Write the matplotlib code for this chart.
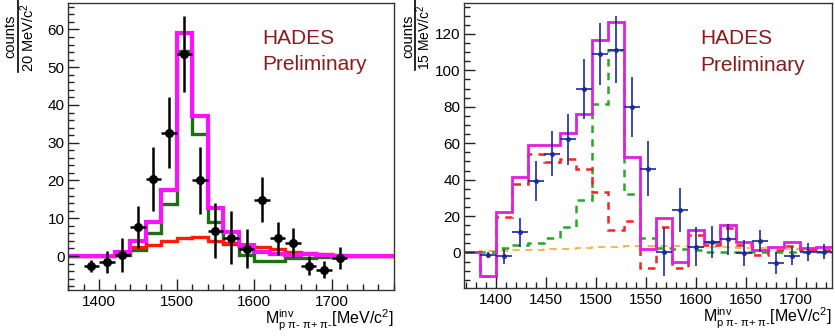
import numpy as np
import matplotlib
matplotlib.use("Agg")
import matplotlib.pyplot as plt
from matplotlib.ticker import MultipleLocator
from matplotlib.lines import Line2D

plt.rcParams['font.family'] = ['Liberation Sans', 'DejaVu Sans']
plt.rcParams['mathtext.fontset'] = 'custom'
plt.rcParams['mathtext.rm'] = 'Liberation Sans'
plt.rcParams['mathtext.it'] = 'Liberation Sans'
plt.rcParams['mathtext.bf'] = 'Liberation Sans:bold'

# ---------------- left panel data (20 MeV bins) ----------------
left_edges = list(range(1360, 1781, 20))
left_total = [0, 0, 0, 1.0, 3.9, 9.0, 17.6, 59.1, 37.2, 12.7, 6.3, 2.8, 1.0, 0.6, 0.4, 0.5, 0.2, 0.1, 0, 0, 0]
left_signal = [0, 0, 0, 0.3, 1.7, 6.2, 13.9, 54.3, 32.2, 9.0, 3.3, 0.2, -1.3, -1.3, -0.5, -0.5, -0.3, 0, 0, 0, 0]
left_bkg = [0, 0, 0, 1.0, 2.4, 2.8, 4.1, 4.8, 5.0, 4.1, 3.4, 2.6, 2.4, 1.9, 1.0, 0.9, 0.6, 0.3, 0, 0, 0]
left_x = [1390, 1410, 1430, 1450, 1470, 1490, 1510, 1530, 1550, 1570, 1590, 1610, 1630, 1650, 1670, 1690, 1710]
left_y = [-2.65, -1.6, 0.2, 7.7, 20.4, 32.7, 53.4, 20.0, 6.7, 4.9, 1.9, 14.9, 4.7, 3.5, -2.6, -3.6, -0.5]
left_err = [1.5, 3.0, 4.5, 5.5, 8.5, 9.5, 10.1, 9.0, 7.3, 7.0, 5.2, 6.0, 4.3, 3.8, 2.5, 2.2, 2.9]

# ---------------- right panel data (16 MeV bins) ----------------
right_edges = list(range(1368, 1737, 16))
right_total = [0, -12.8, 22.3, 41.5, 58.8, 58.8, 65.8, 76.2, 116.5, 126.4, 52.2, 1.8, 19.2, -5.3, 12.1, 5.7, 15.2, 6.0, 1.1, 2.9, 5.5, 2.4, 2.9]
right_red = [0, -12.8, 19.5, 37.4, 53.9, 49.9, 51.1, 45.8, 33.2, 12.4, 17.4, -8.6, 14.2, -8.6, 9.7, 4.2, 13.3, 4.2, -1.3, 1.5, 3.7, 1.5, 1.5]
right_green = [0.3, 0.4, 2.4, 4.2, 5.1, 8.2, 14.2, 28.9, 81.3, 111.4, 32.0, 8.0, 2.4, 1.8, 1.1, 0.5, 0.5, 0.4, 0.3, 0.3, 0.2, 0.2, 0.2]
right_orange = [0.3, 0.6, 0.9, 1.2, 1.5, 1.8, 2.1, 2.4, 2.8, 3.2, 3.6, 3.7, 3.6, 3.4, 3.2, 3.0, 2.8, 2.6, 2.4, 2.2, 2.0, 1.9, 1.8]
right_x = [1392, 1408, 1424, 1440, 1456, 1472, 1488, 1504, 1520, 1536, 1552, 1568, 1584, 1600, 1616, 1632, 1648, 1664, 1680, 1696, 1712, 1728]
right_y = [-1.5, -2.2, 11, 39.3, 54.2, 62.1, 89.7, 109, 111.4, 79.8, 46, 0.2, 23.2, 3.1, 5.7, 7.3, -0.4, 6.4, -5.7, -2, 0.4, 0.4]
right_err = [1.5, 4, 8, 11, 12.4, 14, 16.3, 17.2, 18.4, 16.6, 15, 13, 12, 10.7, 9, 8.6, 7, 6, 6.2, 4.8, 5, 4.2]

W, H = 835, 336
fig = plt.figure(figsize=(W / 100, H / 100), dpi=100)

def px_axes(l, t, r, b):
    return fig.add_axes([l / W, 1 - b / H, (r - l) / W, (b - t) / H])

axL = px_axes(68, 3, 394, 290)
axR = px_axes(464, 3, 832, 288)

hades_color = '#8b1a1a'
tick_fs = 11

def style(ax, xmaj, xmin, ymaj, ymin):
    ax.xaxis.set_major_locator(MultipleLocator(xmaj))
    ax.xaxis.set_minor_locator(MultipleLocator(xmin))
    ax.yaxis.set_major_locator(MultipleLocator(ymaj))
    ax.yaxis.set_minor_locator(MultipleLocator(ymin))
    ax.tick_params(which='both', direction='in', top=False, right=False, labelsize=tick_fs, width=1, color='#222222')
    ax.tick_params(which='major', length=8)
    ax.tick_params(which='minor', length=4)
    ax.tick_params(axis='y', pad=2.5)
    for s in ax.spines.values():
        s.set_linewidth(1.0)
        s.set_color('#333333')

# ---- left ----
axL.stairs(left_signal, left_edges, baseline=None, color='#1f6e12', lw=2.4)
axL.stairs(left_bkg, left_edges, baseline=None, color='#ff1a0a', lw=2.4)
axL.stairs(left_total, left_edges, baseline=None, color='#ff10ff', lw=3.0)
axL.errorbar(left_x, left_y, yerr=left_err, xerr=10, fmt='o', color='black', ms=5.5,
             elinewidth=1.8, capsize=0, zorder=5)
axL.set_xlim(1360, 1780)
axL.set_ylim(-9, 67)
style(axL, 100, 20, 10, 2)
axL.text(0.595, 0.875, 'HADES', transform=axL.transAxes, color=hades_color, fontsize=15, va='center', ha='left')
axL.text(0.595, 0.784, 'Preliminary', transform=axL.transAxes, color=hades_color, fontsize=15, va='center', ha='left')

# ---- right ----
axR.stairs(right_orange, right_edges, baseline=None, color='#ffb040', lw=1.3, ls=(0, (4, 3)))
axR.stairs(right_green, right_edges, baseline=None, color='#22aa22', lw=1.8, ls=(0, (3, 2.5)))
axR.stairs(right_red, right_edges, baseline=None, color='#ff2020', lw=1.8, ls=(0, (3, 2.5)))
axR.stairs(right_total, right_edges, baseline=None, color='#e020e0', lw=2.0)
axR.errorbar(right_x, right_y, yerr=right_err, xerr=8, fmt='o', color='#1a2a9a', ms=2.5,
             elinewidth=1.2, capsize=0, zorder=5)
axR.set_xlim(1368, 1736)
axR.set_ylim(-19.5, 137)
style(axR, 50, 10, 20, 5)
axR.text(0.641, 0.877, 'HADES', transform=axR.transAxes, color=hades_color, fontsize=15, va='center', ha='left')
axR.text(0.641, 0.782, 'Preliminary', transform=axR.transAxes, color=hades_color, fontsize=15, va='center', ha='left')

# x labels
xlab = r'$\mathrm{M}^{\mathrm{inv}}_{\mathrm{p}\ \pi\mathrm{\text{-}}\ \pi\mathrm{+}\ \pi\mathrm{\text{-}}}$[MeV/c$^{2}$]'
fig.text(394 / W, 1 - 320 / H, xlab, ha='right', va='center', fontsize=11.5)
fig.text(832 / W, 1 - 318 / H, xlab, ha='right', va='center', fontsize=11.5)

# y labels (fraction style)
def ylab(xnum, xbar, xden, den, ytop, ybot, fs):
    fig.text(xnum / W, 1 - 36 / H, 'counts', rotation=90, ha='center', va='center', fontsize=10.5)
    fig.text(xden / W, 1 - 37 / H, den, rotation=90, ha='center', va='center', fontsize=fs)
    fig.add_artist(Line2D([xbar / W, xbar / W], [1 - ytop / H, 1 - ybot / H], color='black', lw=1.2))

ylab(10, 17.5, 28, r'20 MeV/c$^{2}$', 0, 72, 10.5)
ylab(408, 415, 424, r'15 MeV/c$^{2}$', 0, 70, 10)

fig.savefig('out.png', dpi=100)
